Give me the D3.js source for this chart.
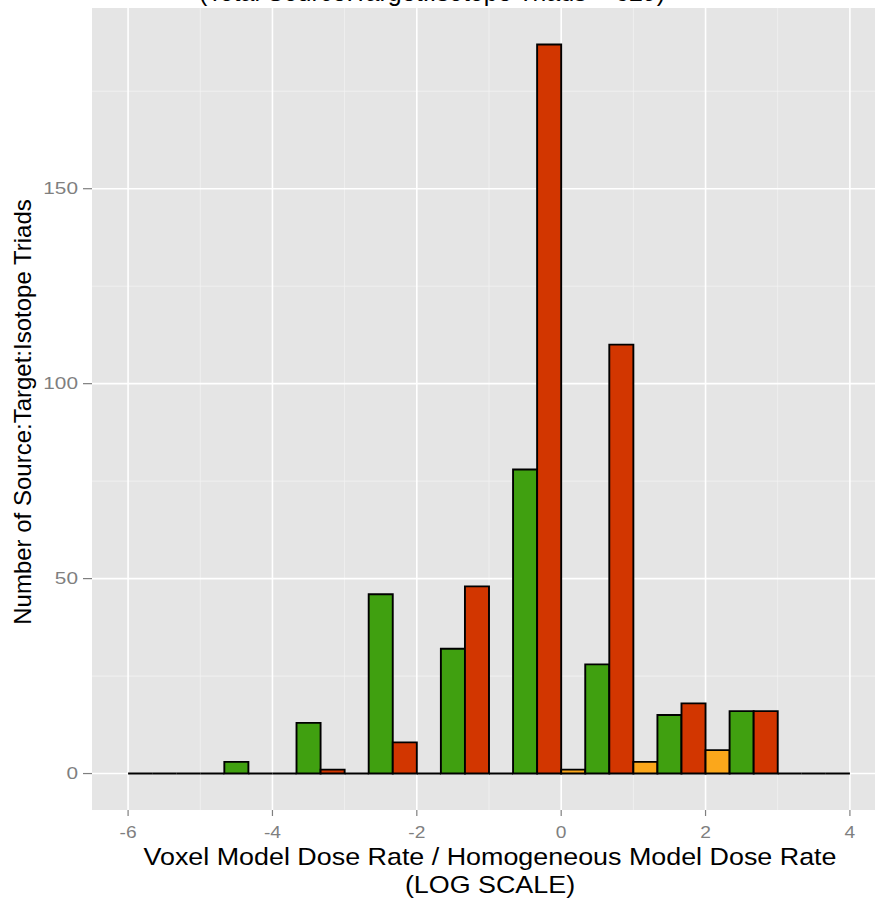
<!DOCTYPE html>
<html>
<head>
<meta charset="utf-8">
<script src="https://cdn.jsdelivr.net/npm/d3@7"></script>
<style>
  body { margin: 0; background: #fff; }
  svg { display: block; font-family: "Liberation Sans", Arial, Helvetica, sans-serif; }
</style>
</head>
<body>
<div id="chart"></div>
<script>
const width = 875, height = 899;

// bins are [start, start + 1] on the log scale
const binStarts = [-6, -5, -4, -3, -2, -1, 0, 1, 2, 3];
const orangeCounts = [0, 0, 0, 0, 0, 0, 1, 3, 6, 0];
const greenCounts = [0, 3, 13, 46, 32, 78, 28, 15, 16, 0];
const redCounts = [0, 0, 1, 8, 48, 187, 110, 18, 16, 0];
const seriesColors = ["#FBA71B", "#40A010", "#D23600"];

const xTicks = [-6, -4, -2, 0, 2, 4];
const xMinor = [-5, -3, -1, 1, 3];
const yTicks = [0, 50, 100, 150];
const yMinor = [25, 75, 125, 175];

const titleText = "(Total Source:Target:Isotope Triads = 629)";
const xTitle = ["Voxel Model Dose Rate / Homogeneous Model Dose Rate", "(LOG SCALE)"];
const yTitle = "Number of Source:Target:Isotope Triads";

const panel = {left: 92, right: 886, top: 8, bottom: 810};

const svg = d3.select("#chart").append("svg").attr("width", width).attr("height", height);

const x = d3.scaleLinear().domain([-6.5, 4.5]).range([panel.left, panel.right]);
const y = d3.scaleLinear().domain([-9.35, 196.35]).range([panel.bottom, panel.top]);

// panel background
svg.append("rect")
    .attr("x", panel.left).attr("y", panel.top)
    .attr("width", panel.right - panel.left).attr("height", panel.bottom - panel.top)
    .attr("fill", "#E5E5E5");

// grid lines
svg.selectAll(".xminor").data(xMinor).enter().append("line")
    .attr("x1", d => x(d)).attr("x2", d => x(d))
    .attr("y1", panel.top).attr("y2", panel.bottom)
    .attr("stroke", "#F2F2F2").attr("stroke-width", 0.8);
svg.selectAll(".yminor").data(yMinor).enter().append("line")
    .attr("x1", panel.left).attr("x2", panel.right)
    .attr("y1", d => y(d)).attr("y2", d => y(d))
    .attr("stroke", "#F2F2F2").attr("stroke-width", 0.8);
svg.selectAll(".xmajor").data(xTicks).enter().append("line")
    .attr("x1", d => x(d)).attr("x2", d => x(d))
    .attr("y1", panel.top).attr("y2", panel.bottom)
    .attr("stroke", "#FFFFFF").attr("stroke-width", 1.6);
svg.selectAll(".ymajor").data(yTicks).enter().append("line")
    .attr("x1", panel.left).attr("x2", panel.right)
    .attr("y1", d => y(d)).attr("y2", d => y(d))
    .attr("stroke", "#FFFFFF").attr("stroke-width", 1.6);

// dodged bars: each bin split in three
const bars = [];
binStarts.forEach((b, i) => {
    [orangeCounts, greenCounts, redCounts].forEach((arr, j) => {
        bars.push({x0: b + j / 3, x1: b + (j + 1) / 3, count: arr[i], series: j});
    });
});

svg.selectAll(".bar").data(bars).enter().append("path")
    .attr("class", "bar")
    .attr("d", d => {
        const x0 = x(d.x0), x1 = x(d.x1), y0 = y(0), y1 = y(d.count);
        return `M${x0},${y0}L${x0},${y1}L${x1},${y1}L${x1},${y0}Z`;
    })
    .attr("fill", d => seriesColors[d.series])
    .attr("stroke", "#000")
    .attr("stroke-width", 1.9)
    .attr("stroke-linejoin", "miter");

// axes (ticks + labels drawn by hand to mimic ggplot)
const tickColor = "#7F7F7F";
svg.selectAll(".xtick").data(xTicks).enter().append("line")
    .attr("x1", d => x(d)).attr("x2", d => x(d))
    .attr("y1", panel.bottom).attr("y2", panel.bottom + 6)
    .attr("stroke", tickColor).attr("stroke-width", 1.2);
svg.selectAll(".xlab").data(xTicks).enter().append("text")
    .attr("transform", d => `translate(${x(d)},${panel.bottom + 28}) scale(1.2,1)`)
    .attr("text-anchor", "middle")
    .attr("fill", tickColor).style("font-size", "16px")
    .text(d => d);

svg.selectAll(".ytick").data(yTicks).enter().append("line")
    .attr("x1", panel.left - 9).attr("x2", panel.left)
    .attr("y1", d => y(d)).attr("y2", d => y(d))
    .attr("stroke", tickColor).attr("stroke-width", 1.2);
svg.selectAll(".ylab").data(yTicks).enter().append("text")
    .attr("transform", d => `translate(${panel.left - 14},${y(d)}) scale(1.3,1)`)
    .attr("dy", "0.35em")
    .attr("text-anchor", "end")
    .attr("fill", tickColor).style("font-size", "16px")
    .text(d => d);

// titles
svg.append("text")
    .attr("x", 432).attr("y", 1)
    .attr("text-anchor", "middle")
    .style("font-size", "25px")
    .text(titleText);

svg.selectAll(".xtitle").data(xTitle).enter().append("text")
    .attr("transform", (d, i) => `translate(490,${865 + i * 28}) scale(1.12,1)`)
    .attr("text-anchor", "middle")
    .style("font-size", "24px")
    .text(d => d);

svg.append("text")
    .attr("transform", `translate(31, 412) rotate(-90)`)
    .attr("text-anchor", "middle")
    .style("font-size", "24px")
    .text(yTitle);
</script>
</body>
</html>
